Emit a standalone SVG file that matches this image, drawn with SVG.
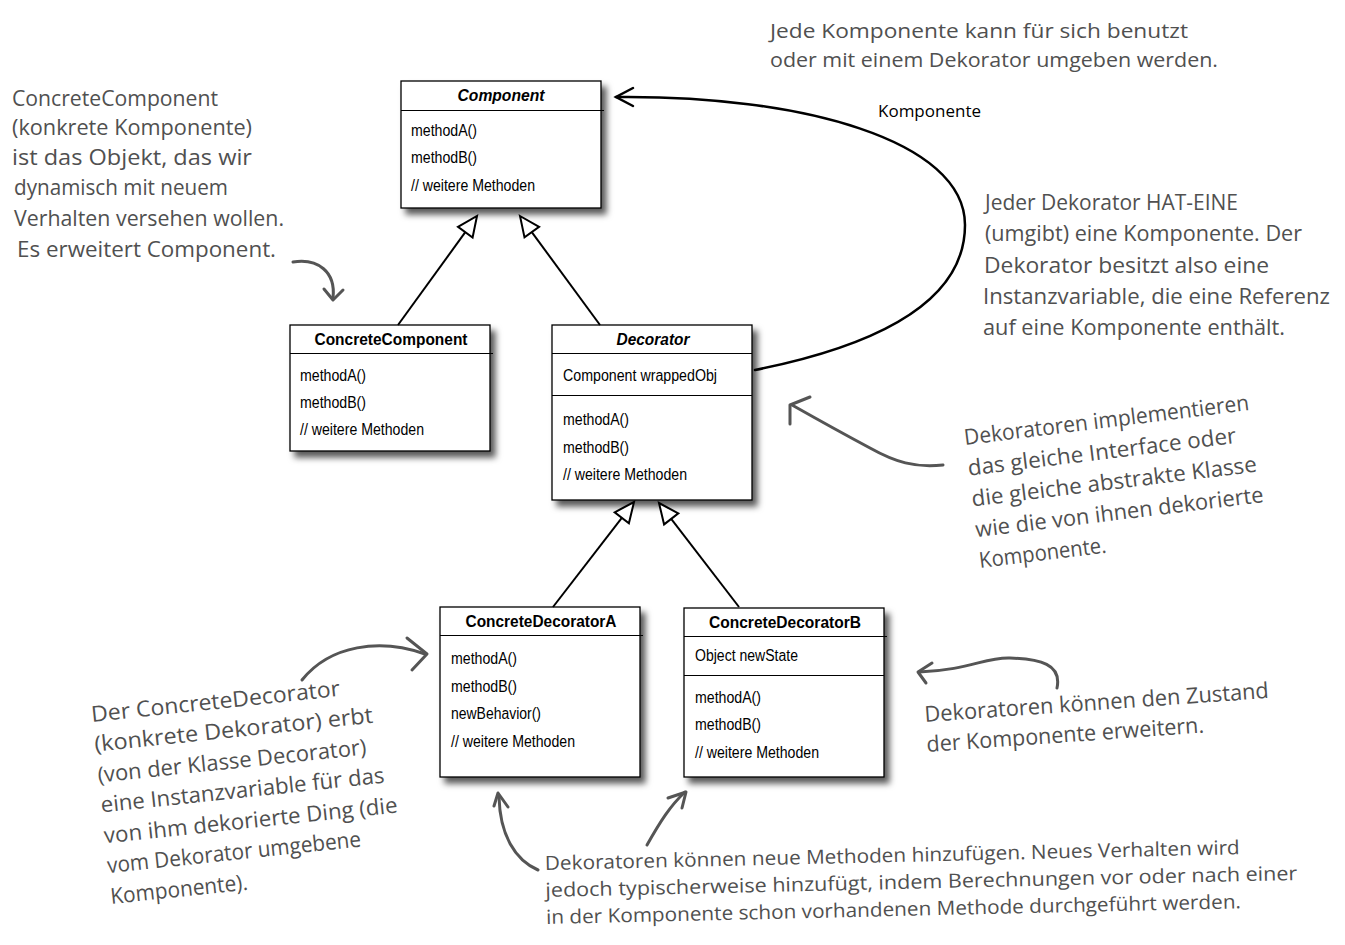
<svg xmlns="http://www.w3.org/2000/svg" width="1345" height="945" viewBox="0 0 1345 945">
  <defs>
    <filter id="shadow" x="-10%" y="-10%" width="130%" height="130%">
      <feDropShadow dx="5" dy="6" stdDeviation="3" flood-color="#000" flood-opacity="0.65"/>
    </filter>
  </defs>
  <style>
    .box { fill: #fff; stroke: #000; stroke-width: 1.3; }
    .div { stroke: #000; stroke-width: 1.2; }
    .title { font-family: "Liberation Sans", Arial, sans-serif; font-size: 16.5px; font-weight: bold; fill: #000; text-anchor: middle; }
    .abstract { font-style: italic; }
    .member { font-family: "Liberation Sans", Arial, sans-serif; font-size: 16px; fill: #000; }
    .gen { stroke: #000; stroke-width: 2; fill: none; }
    .tri { stroke: #000; stroke-width: 2; fill: #fff; stroke-linejoin: miter; }
    .assoc { stroke: #000; stroke-width: 2.5; fill: none; stroke-linecap: round; }
    .note { font-family: "Open Sans", "Liberation Sans", sans-serif; font-size: 22px; fill: #505050; }
    .note-m { font-size: 20.5px; }
    .note-s { font-size: 19.5px; }
    .pen { stroke: #555; stroke-width: 3; fill: none; stroke-linecap: round; stroke-linejoin: round; }
    .label { font-family: "Open Sans", "Liberation Sans", sans-serif; font-size: 17px; fill: #000; }
  </style>

  <!-- UML class boxes -->
  <g id="component">
    <rect class="box" x="401" y="81" width="200" height="127" filter="url(#shadow)"/>
    <line class="div" x1="401" y1="110.5" x2="604" y2="110.5"/>
    <text class="title abstract" x="501" y="101" textLength="87" lengthAdjust="spacingAndGlyphs">Component</text>
    <text class="member" x="411" y="136" textLength="66" lengthAdjust="spacingAndGlyphs">methodA()</text>
    <text class="member" x="411" y="163" textLength="66" lengthAdjust="spacingAndGlyphs">methodB()</text>
    <text class="member" x="411" y="191" textLength="124" lengthAdjust="spacingAndGlyphs">// weitere Methoden</text>
  </g>

  <g id="concrete-component">
    <rect class="box" x="290" y="325" width="200" height="126" filter="url(#shadow)"/>
    <line class="div" x1="290" y1="353.5" x2="493" y2="353.5"/>
    <text class="title" x="391" y="345" textLength="153" lengthAdjust="spacingAndGlyphs">ConcreteComponent</text>
    <text class="member" x="300" y="381" textLength="66" lengthAdjust="spacingAndGlyphs">methodA()</text>
    <text class="member" x="300" y="408" textLength="66" lengthAdjust="spacingAndGlyphs">methodB()</text>
    <text class="member" x="300" y="435" textLength="124" lengthAdjust="spacingAndGlyphs">// weitere Methoden</text>
  </g>

  <g id="decorator">
    <rect class="box" x="552" y="325" width="200" height="175" filter="url(#shadow)"/>
    <line class="div" x1="552" y1="353.5" x2="752" y2="353.5"/>
    <line class="div" x1="552" y1="395.5" x2="752" y2="395.5"/>
    <text class="title abstract" x="653" y="345" textLength="73" lengthAdjust="spacingAndGlyphs">Decorator</text>
    <text class="member" x="563" y="381" textLength="154" lengthAdjust="spacingAndGlyphs">Component wrappedObj</text>
    <text class="member" x="563" y="425" textLength="66" lengthAdjust="spacingAndGlyphs">methodA()</text>
    <text class="member" x="563" y="453" textLength="66" lengthAdjust="spacingAndGlyphs">methodB()</text>
    <text class="member" x="563" y="480" textLength="124" lengthAdjust="spacingAndGlyphs">// weitere Methoden</text>
  </g>

  <g id="concrete-decorator-a">
    <rect class="box" x="440" y="607" width="200" height="170" filter="url(#shadow)"/>
    <line class="div" x1="440" y1="635.5" x2="643" y2="635.5"/>
    <text class="title" x="541" y="627" textLength="151" lengthAdjust="spacingAndGlyphs">ConcreteDecoratorA</text>
    <text class="member" x="451" y="664" textLength="66" lengthAdjust="spacingAndGlyphs">methodA()</text>
    <text class="member" x="451" y="692" textLength="66" lengthAdjust="spacingAndGlyphs">methodB()</text>
    <text class="member" x="451" y="719" textLength="90" lengthAdjust="spacingAndGlyphs">newBehavior()</text>
    <text class="member" x="451" y="747" textLength="124" lengthAdjust="spacingAndGlyphs">// weitere Methoden</text>
  </g>

  <g id="concrete-decorator-b">
    <rect class="box" x="684" y="608" width="200" height="169" filter="url(#shadow)"/>
    <line class="div" x1="684" y1="636.5" x2="887" y2="636.5"/>
    <line class="div" x1="684" y1="675.5" x2="884" y2="675.5"/>
    <text class="title" x="785" y="628" textLength="152" lengthAdjust="spacingAndGlyphs">ConcreteDecoratorB</text>
    <text class="member" x="695" y="661" textLength="103" lengthAdjust="spacingAndGlyphs">Object newState</text>
    <text class="member" x="695" y="703" textLength="66" lengthAdjust="spacingAndGlyphs">methodA()</text>
    <text class="member" x="695" y="730" textLength="66" lengthAdjust="spacingAndGlyphs">methodB()</text>
    <text class="member" x="695" y="758" textLength="124" lengthAdjust="spacingAndGlyphs">// weitere Methoden</text>
  </g>

  <!-- inheritance and association connectors -->
  <g id="connectors">
    <line class="gen" x1="398" y1="325" x2="465.3" y2="232.2"/>
    <polygon class="tri" points="477,216 472.6,237.5 458,226.9"/>
    <line class="gen" x1="600" y1="325" x2="531.8" y2="232.1"/>
    <polygon class="tri" points="520,216 539.1,226.8 524.5,237.4"/>
    <line class="gen" x1="553" y1="607" x2="621.8" y2="517.8"/>
    <polygon class="tri" points="634,502 628.9,523.3 614.7,512.3"/>
    <line class="gen" x1="739" y1="607" x2="671.2" y2="518.9"/>
    <polygon class="tri" points="659,503 678.3,513.4 664.1,524.4"/>

    <path class="assoc" d="M755,370 C880,345 965,300 965,225 C965,140 800,95 616,97"/>
    <polyline class="assoc" points="633,88 616,97 633,106"/>
    <text class="label" x="878" y="117">Komponente</text>
  </g>

  <!-- handwritten notes -->
  <g id="note-top">
    <text class="note note-m" x="770" y="38" textLength="418" lengthAdjust="spacingAndGlyphs">Jede Komponente kann für sich benutzt</text>
    <text class="note note-m" x="770" y="67" textLength="448" lengthAdjust="spacingAndGlyphs">oder mit einem Dekorator umgeben werden.</text>
  </g>

  <g id="note-concrete-component">
    <text class="note" x="12" y="106" textLength="206" lengthAdjust="spacingAndGlyphs">ConcreteComponent</text>
    <text class="note" x="12" y="135" textLength="240" lengthAdjust="spacingAndGlyphs">(konkrete Komponente)</text>
    <text class="note" x="12" y="165" textLength="240" lengthAdjust="spacingAndGlyphs">ist das Objekt, das wir</text>
    <text class="note" x="14" y="195" textLength="214" lengthAdjust="spacingAndGlyphs">dynamisch mit neuem</text>
    <text class="note" x="14" y="226" textLength="270" lengthAdjust="spacingAndGlyphs">Verhalten versehen wollen.</text>
    <text class="note" x="17" y="257" textLength="259" lengthAdjust="spacingAndGlyphs">Es erweitert Component.</text>
    <path class="pen" d="M293,262 C318,258 336,272 333,298"/>
    <polyline class="pen" points="324,289 333,300 343,290"/>
  </g>

  <g id="note-has-a">
    <text class="note" x="985" y="210" textLength="253" lengthAdjust="spacingAndGlyphs">Jeder Dekorator HAT-EINE</text>
    <text class="note" x="985" y="241" textLength="317" lengthAdjust="spacingAndGlyphs">(umgibt) eine Komponente. Der</text>
    <text class="note" x="984" y="273" textLength="285" lengthAdjust="spacingAndGlyphs">Dekorator besitzt also eine</text>
    <text class="note" x="983" y="304" textLength="347" lengthAdjust="spacingAndGlyphs">Instanzvariable, die eine Referenz</text>
    <text class="note" x="983" y="335" textLength="302" lengthAdjust="spacingAndGlyphs">auf eine Komponente enthält.</text>
  </g>

  <g id="note-same-interface">
    <g transform="rotate(-7 965 445)">
      <text class="note" x="965" y="445" textLength="287" lengthAdjust="spacingAndGlyphs">Dekoratoren implementieren</text>
      <text class="note" x="965" y="476" textLength="270" lengthAdjust="spacingAndGlyphs">das gleiche Interface oder</text>
      <text class="note" x="965" y="507" textLength="287" lengthAdjust="spacingAndGlyphs">die gleiche abstrakte Klasse</text>
      <text class="note" x="965" y="538" textLength="290" lengthAdjust="spacingAndGlyphs">wie die von ihnen dekorierte</text>
      <text class="note" x="965" y="569" textLength="128" lengthAdjust="spacingAndGlyphs">Komponente.</text>
    </g>
    <path class="pen" d="M943,465 C915,468 895,462 870,448 C840,432 815,418 792,405"/>
    <polyline class="pen" points="810,397 790,405 790,424"/>
  </g>

  <g id="note-state">
    <g transform="rotate(-4 925 722)">
      <text class="note" x="925" y="722" textLength="345" lengthAdjust="spacingAndGlyphs">Dekoratoren können den Zustand</text>
      <text class="note" x="925" y="752" textLength="278" lengthAdjust="spacingAndGlyphs">der Komponente erweitern.</text>
    </g>
    <path class="pen" d="M1057,688 C1062,664 1040,659 1010,658 C985,657 970,670 919,672"/>
    <polyline class="pen" points="932,663 918,672 926,683"/>
  </g>

  <g id="note-concrete-decorator">
    <g transform="rotate(-6 92 722)">
      <text class="note" x="92" y="722" textLength="250" lengthAdjust="spacingAndGlyphs">Der ConcreteDecorator</text>
      <text class="note" x="92" y="752" textLength="280" lengthAdjust="spacingAndGlyphs">(konkrete Dekorator) erbt</text>
      <text class="note" x="92" y="783" textLength="270" lengthAdjust="spacingAndGlyphs">(von der Klasse Decorator)</text>
      <text class="note" x="92" y="813" textLength="285" lengthAdjust="spacingAndGlyphs">eine Instanzvariable für das</text>
      <text class="note" x="92" y="844" textLength="295" lengthAdjust="spacingAndGlyphs">von ihm dekorierte Ding (die</text>
      <text class="note" x="92" y="874" textLength="255" lengthAdjust="spacingAndGlyphs">vom Dekorator umgebene</text>
      <text class="note" x="92" y="905" textLength="138" lengthAdjust="spacingAndGlyphs">Komponente).</text>
    </g>
    <path class="pen" d="M302,680 C330,645 380,638 425,654"/>
    <polyline class="pen" points="407,638 427,654 412,670"/>
  </g>

  <g id="note-new-methods">
    <g transform="rotate(-1.3 545 870)">
      <text class="note note-s" x="545" y="870" textLength="695" lengthAdjust="spacingAndGlyphs">Dekoratoren können neue Methoden hinzufügen. Neues Verhalten wird</text>
      <text class="note note-s" x="545" y="897" textLength="752" lengthAdjust="spacingAndGlyphs">jedoch typischerweise hinzufügt, indem Berechnungen vor oder nach einer</text>
      <text class="note note-s" x="545" y="924" textLength="695" lengthAdjust="spacingAndGlyphs">in der Komponente schon vorhandenen Methode durchgeführt werden.</text>
    </g>
    <path class="pen" d="M538,870 C515,860 500,835 499,797"/>
    <polyline class="pen" points="494,806 498,793 508,807"/>
    <path class="pen" d="M647,845 C660,822 670,806 685,792"/>
    <polyline class="pen" points="668,798 686,792 682,808"/>
  </g>
</svg>
